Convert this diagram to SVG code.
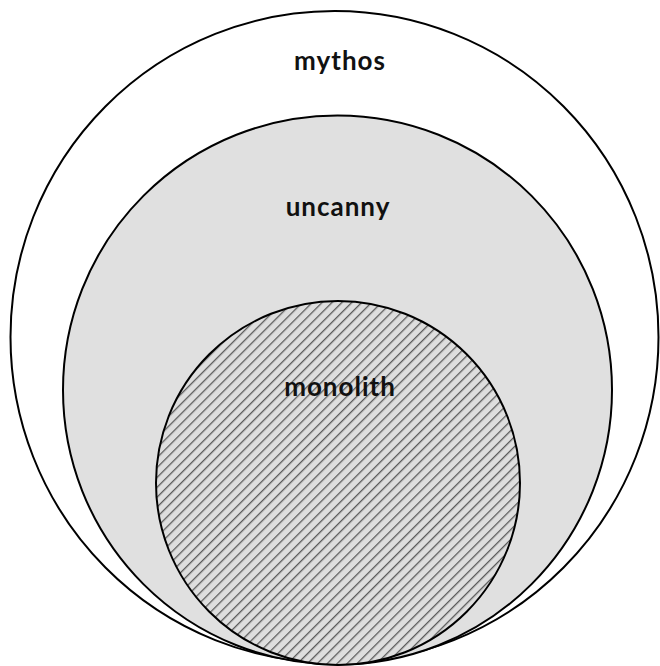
<svg xmlns="http://www.w3.org/2000/svg" width="660" height="666" viewBox="0 0 660 666">
<style>
.c{stroke:#000;stroke-width:2}
.t{font-family:"Lato","Liberation Sans",sans-serif;font-size:26px;font-weight:bold;fill:#111;text-anchor:middle;letter-spacing:1px}
</style>
<defs>
<pattern id="hatch" patternUnits="userSpaceOnUse" width="7" height="7" patternTransform="rotate(45)">
<rect width="7" height="7" fill="#dedede"/>
<line x1="0" y1="0" x2="0" y2="7" stroke="#5a5a5a" stroke-width="2.6"/>
</pattern>
</defs>
<rect width="660" height="666" fill="#fff"/>
<g id="mythos">
<ellipse class="c" cx="334.5" cy="337" rx="324" ry="326" fill="#fff"/>
<text class="t" x="340" y="70">mythos</text>
</g>
<g id="uncanny">
<circle class="c" cx="337.5" cy="390" r="274.5" fill="#e0e0e0"/>
<text class="t" x="338" y="216">uncanny</text>
</g>
<g id="monolith">
<circle class="c" cx="338" cy="483" r="182" fill="url(#hatch)"/>
<text class="t" x="340" y="396">monolith</text>
</g>
</svg>
